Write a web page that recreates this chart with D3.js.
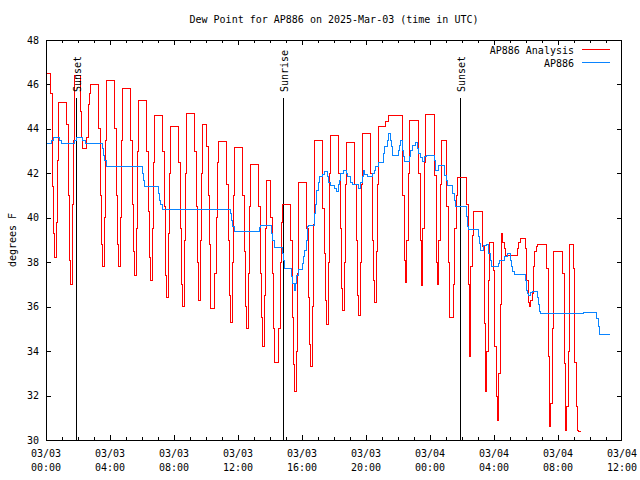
<!DOCTYPE html>
<html><head><meta charset="utf-8">
<script src="https://cdn.jsdelivr.net/npm/d3@7"></script>
<style>
body{margin:0;background:#fff}
svg text{font-family:"DejaVu Sans Mono",monospace;font-size:10px;fill:#000}
</style>
</head><body>
<svg id="chart" width="640" height="480"></svg>
<script>
const chartTitle = "Dew Point for AP886 on 2025-Mar-03 (time in UTC)";
const yLabel = "degrees F";
const seriesNames = ["AP886 Analysis", "AP886"];
const seriesColors = ["#ff0000", "#0a84ff"];
const yTicks = [30, 32, 34, 36, 38, 40, 42, 44, 46, 48];
const xTickLabels = [
  ["03/03","00:00"],["03/03","04:00"],["03/03","08:00"],["03/03","12:00"],["03/03","16:00"],
  ["03/03","20:00"],["03/04","00:00"],["03/04","04:00"],["03/04","08:00"],["03/04","12:00"]
];
const xStart = "2025-03-03T00:00:00Z";
const xEnd = "2025-03-04T12:00:00Z";

// Analysis: one value every 5 minutes, starting 00:02:30 UTC
const analysisStart = "2025-03-03T00:02:30Z";
const analysisStepMinutes = 5;
const analysisDew = [
  46.5,46.5,46.5,45.6,41.4,39.3,38.2,39.8,42.6,45.2,45.2,45.2,
  45.2,45.2,45.2,44.2,41.0,38.1,37.0,40.6,43.5,46.4,46.4,46.4,
  46.4,44.8,43.6,43.1,43.1,43.1,43.6,45.1,45.6,46.0,46.0,46.0,
  46.0,46.0,46.0,44.0,41.0,38.8,37.8,40.0,43.5,46.2,46.2,46.2,
  46.2,46.2,46.2,44.0,41.0,38.8,37.8,40.0,43.5,45.8,45.8,45.8,
  45.8,45.8,45.8,43.5,40.6,38.5,37.4,39.5,43.0,45.3,45.3,45.3,
  45.3,45.3,45.3,43.0,40.3,38.2,37.2,39.5,42.5,44.6,44.6,44.6,
  44.6,44.6,44.6,43.0,40.5,37.4,36.4,39.3,42.0,44.1,44.1,44.1,
  44.1,44.1,44.1,42.5,39.5,37.0,36.0,39.0,42.0,44.7,44.7,44.7,
  44.7,44.7,44.7,43.0,40.5,38.0,36.3,39.0,42.0,44.2,44.2,44.2,
  43.2,41.0,38.8,35.9,35.9,35.9,37.5,40.0,42.5,43.45,43.45,43.45,
  43.45,43.45,43.45,41.5,39.0,36.5,35.3,38.0,41.0,43.15,43.15,43.15,
  43.15,43.15,43.15,41.0,38.5,36.0,35.0,37.5,40.5,42.4,42.4,42.4,
  42.4,42.4,42.4,40.5,37.5,35.5,34.2,36.5,39.5,41.7,41.7,41.7,
  40.0,37.5,35.0,33.5,33.5,33.5,35.0,38.0,39.8,40.6,40.6,40.6,
  40.6,40.6,40.6,39.0,35.5,33.4,32.2,34.0,37.5,41.6,41.6,41.6,
  41.6,41.6,41.6,39.5,36.4,34.3,33.3,36.0,39.7,43.5,43.5,43.5,
  43.5,43.5,43.5,40.4,38.4,36.3,35.2,38.0,42.0,43.7,43.7,43.7,
  43.7,43.7,43.7,42.0,39.5,36.8,35.85,38.0,41.5,43.4,43.4,43.4,
  43.4,43.4,43.4,41.5,39.0,36.5,35.6,38.0,41.5,43.8,43.8,43.8,
  43.8,43.8,43.8,42.0,39.0,37.2,36.2,38.5,41.5,44.1,44.1,44.1,
  44.1,44.1,44.35,44.35,44.6,44.6,44.6,44.6,44.6,44.6,44.6,44.6,
  44.6,44.6,44.6,41.0,38.1,37.1,39.0,42.0,44.4,44.4,44.4,44.4,
  44.4,44.4,44.4,42.0,39.0,36.95,39.5,42.5,44.65,44.65,44.65,44.65,
  44.65,44.65,44.65,41.9,38.0,37.0,39.0,41.5,43.5,43.5,43.5,43.5,
  40.5,38.0,35.5,35.5,35.5,37.0,39.5,41.0,41.8,41.8,41.8,41.8,
  41.8,41.8,41.8,40.6,37.0,33.75,37.8,39.2,40.3,40.3,40.3,40.3,
  40.3,40.3,40.3,38.7,35.25,32.2,34.0,37.2,38.9,38.9,38.9,37.65,
  34.2,31.95,30.9,33.0,36.1,39.3,38.9,38.6,38.3,38.3,38.3,38.3,
  38.3,38.3,38.3,38.3,38.3,38.6,38.9,39.05,39.05,39.05,39.05,38.6,
  37.2,36.2,36.0,36.3,36.6,37.8,38.5,38.7,38.8,38.8,38.8,38.8,
  38.8,38.8,38.8,37.7,33.75,30.6,31.65,35.0,38.5,38.5,38.5,38.5,
  38.5,38.5,38.5,37.5,33.45,30.45,31.5,34.0,38.8,38.8,38.8,37.7,
  33.5,31.5,30.45,30.4,30.4,30.4
];

// Observations: minutes after 03/03 00:00 UTC, and dew point
const obsMinutes = [
  2.5,20,27.5,50,57.5,107.5,112.5,137.5,147.5,210,215,220,225,360,365,370,420,425,430,435,
  690,695,700,705,800,805,845,850,855,885,890,895,920,925,930,935,940,945,960,965,970,975,980,985,
  1005,1010,1015,1020,1025,1035,1045,1055,1060,1065,1080,1090,1095,1100,1105,1115,1125,1130,1140,1150,
  1170,1180,1185,1190,1195,1205,1225,1230,1235,1245,1265,1270,1280,1285,1290,1295,1300,1320,1325,1330,
  1335,1340,1345,1362.5,1367.5,1375,1385,1392.5,1397.5,1402.5,1412.5,1420,1425,1455,1460,1470,1495,1500,
  1505,1525,1530,1535,1575,1580,1585,1620,1625,1630,1640,1650,1660,1665,1670,1695,1700,1720,1730,1740,
  1745,1750,1755,1797.5,1800,1805,1810,1815,1822.5,1842.5,1845,1850,1855,2015,2065,2070,2075,2115
];
const obsDew = [
  43.35,43.5,43.6,43.5,43.35,43.5,43.6,43.5,43.35,43.1,42.8,42.6,42.33,42.0,41.7,41.4,41.1,40.8,40.6,40.38,
  40.2,39.9,39.6,39.4,39.55,39.67,39.3,39.0,38.67,38.4,38.1,37.7,37.35,37.05,36.75,37.05,37.4,37.68,37.95,38.25,38.55,39.0,39.6,39.67,
  40.2,40.6,41.25,41.6,41.85,41.95,42.1,41.85,41.6,41.47,41.3,41.17,41.5,41.7,42.0,42.15,42.0,41.85,41.6,41.5,
  41.3,41.6,41.85,42.15,41.95,41.88,42.0,42.15,42.3,42.5,42.9,43.2,43.5,43.8,43.5,43.2,42.8,43.05,43.27,43.5,
  43.05,42.75,42.525,42.75,43.05,43.27,43.4,43.1,42.9,42.7,42.525,42.75,42.8,42.6,42.15,42.375,41.9,41.7,
  41.47,41.1,40.8,40.5,40.05,39.6,39.48,39.15,38.85,38.55,38.75,38.8,38.4,38.1,37.8,37.95,38.1,38.25,38.4,38.1,
  37.8,37.6,37.43,37.2,36.75,36.6,36.5,36.65,36.7,36.4,36.1,35.8,35.7,35.75,35.45,35.1,34.77,34.77
];

const sunEvents = [
  {label: "Sunset",  time: "2025-03-03T01:54:00Z"},
  {label: "Sunrise", time: "2025-03-03T14:50:00Z"},
  {label: "Sunset",  time: "2025-03-04T01:54:00Z"}
];

const MIN = 60000;
const t0 = new Date(xStart).getTime();
const a0 = new Date(analysisStart).getTime();
const analysis = analysisDew.map((v, i) => ({t: new Date(a0 + i * analysisStepMinutes * MIN), v}));
const obs = obsMinutes.map((m, i) => ({t: new Date(t0 + m * MIN), v: obsDew[i]}));

const L = 46, R = 622, T = 40, B = 440;
const x = d3.scaleUtc().domain([new Date(xStart), new Date(xEnd)]).range([L, R]);
const y = d3.scaleLinear().domain([30, 48]).range([B, T]);
const svg = d3.select("#chart");
const px = v => Math.round(v) + 0.5;

// title
svg.append("text").attr("x", 334).attr("y", 23).attr("text-anchor", "middle").text(chartTitle);

// y label
svg.append("text").attr("transform", "translate(12,240) rotate(-90)")
  .attr("text-anchor", "middle").attr("dominant-baseline", "central").text(yLabel);

const axes = svg.append("g").attr("shape-rendering", "crispEdges").attr("stroke", "#000").attr("stroke-width", 1);

// y ticks (both sides, inward) + labels
yTicks.forEach(v => {
  const yy = px(y(v));
  if (v !== 30 && v !== 48) {
    axes.append("line").attr("x1", L).attr("x2", L + 5).attr("y1", yy).attr("y2", yy);
    axes.append("line").attr("x1", R - 5).attr("x2", R).attr("y1", yy).attr("y2", yy);
  }
  svg.append("text").attr("x", 39).attr("y", y(v)).attr("text-anchor", "end")
    .attr("dominant-baseline", "central").text(String(v));
});

// x ticks: hourly minor, 4-hourly major
const hourTicks = d3.utcHour.every(1).range(new Date(xStart), new Date(new Date(xEnd).getTime() + 1));
hourTicks.forEach(t => {
  const h = Math.round((t - t0) / 3600000);
  if (h === 0 || h === 36) return;
  const len = h % 4 === 0 ? 5 : 3;
  const xx = px(x(t));
  axes.append("line").attr("x1", xx).attr("x2", xx).attr("y1", B).attr("y2", B - len);
  axes.append("line").attr("x1", xx).attr("x2", xx).attr("y1", T).attr("y2", T + len);
});
const majorTicks = d3.utcHour.every(4).range(new Date(xStart), new Date(new Date(xEnd).getTime() + 1));
majorTicks.forEach((t, i) => {
  const lab = xTickLabels[i];
  svg.append("text").attr("x", x(t)).attr("y", 457).attr("text-anchor", "middle").text(lab[0]);
  svg.append("text").attr("x", x(t)).attr("y", 471).attr("text-anchor", "middle").text(lab[1]);
});

// frame
axes.append("rect").attr("x", L + 0.5).attr("y", T + 0.5).attr("width", R - L - 1).attr("height", B - T - 0.5)
  .attr("fill", "none");

// series
const line = d3.line().x(d => x(d.t)).y(d => y(d.v)).curve(d3.curveStepAfter);
svg.append("path").datum(analysis).attr("d", line).attr("fill", "none")
  .attr("stroke", seriesColors[0]).attr("stroke-width", 1).attr("shape-rendering", "crispEdges");
svg.append("path").datum(obs).attr("d", line).attr("fill", "none")
  .attr("stroke", seriesColors[1]).attr("stroke-width", 1).attr("shape-rendering", "crispEdges");

// sun events
sunEvents.forEach(e => {
  const xx = px(x(new Date(e.time)));
  axes.append("line").attr("x1", xx).attr("x2", xx).attr("y1", B).attr("y2", 98);
  svg.append("text").attr("transform", `translate(${xx + 1},92) rotate(-90)`)
    .attr("dominant-baseline", "central").text(e.label);
});

// legend
seriesNames.forEach((name, i) => {
  const ly = 50 + i * 13;
  svg.append("text").attr("x", 574).attr("y", ly).attr("text-anchor", "end")
    .attr("dominant-baseline", "central").text(name);
  svg.append("line").attr("x1", 582).attr("x2", 610).attr("y1", ly - 0.5).attr("y2", ly - 0.5)
    .attr("stroke", seriesColors[i]).attr("stroke-width", 1).attr("shape-rendering", "crispEdges");
});
</script>
</body></html>
